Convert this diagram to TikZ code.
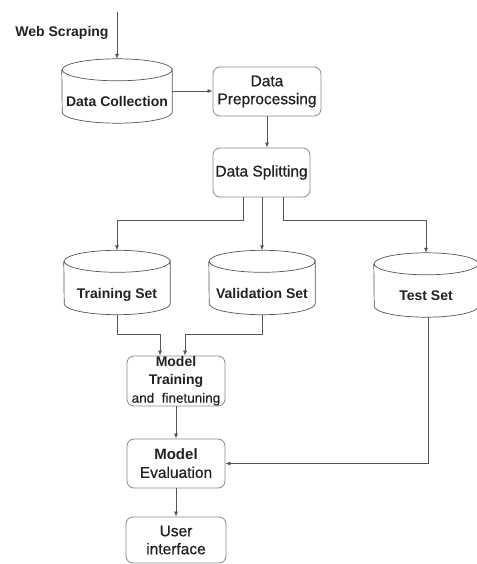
\documentclass[tikz,border=0pt]{standalone}
\usepackage{fontspec}
\setmainfont{Liberation Sans}
\newfontfamily\medfont[FakeBold=0.7]{Liberation Sans}
\usetikzlibrary{arrows.meta}
\definecolor{linec}{HTML}{555555}
\definecolor{boxc}{HTML}{8A8A8A}
\definecolor{txtc}{HTML}{222222}
\newcommand\regtext{\fontsize{15.5}{18}\selectfont\medfont\mdseries}
\tikzset{
 base/.style={font=\fontsize{14}{18}\selectfont\bfseries, text=txtc, align=center},
 regfont/.style={font=\fontsize{15.5}{18}\selectfont\medfont\mdseries},
 rbox/.style={base, draw=boxc, line width=0.8pt, rounded corners=7pt, inner sep=0pt},
 cylnode/.style={base, inner sep=0pt, minimum height=64pt, text height=31pt, text depth=0pt},
 cylline/.style={draw=linec, line width=0.7pt},
 conn/.style={draw=linec, line width=0.7pt, -{Latex[length=5pt,width=4pt]}},
}
\newcommand\drawcyl[2]{%
 \draw[cylline] ([yshift=-11pt]#1.north east) arc[start angle=0,end angle=360,x radius=#2pt,y radius=11pt] -- ([yshift=11pt]#1.south east) arc[start angle=0,end angle=-180,x radius=#2pt,y radius=11pt] -- ([yshift=-11pt]#1.north west);}
\begin{document}
\begin{tikzpicture}[x=1pt,y=-1pt]
\useasboundingbox (0,0) rectangle (476,564);
\node[base] (ws) at (62,33) {Web Scraping};
\coordinate (wstop) at (117,12);
\node[cylnode, minimum width=110pt] (dc) at (117,91) {Data Collection};
\node[rbox, regfont, minimum width=108pt, minimum height=49pt] (dp) at (267,91.5) {Data\\Preprocessing};
\node[rbox, regfont, minimum width=97pt, minimum height=49pt] (ds) at (261.5,172.5) {Data Splitting};
\node[cylnode, minimum width=106pt] (tr) at (117,282.5) {Training Set};
\node[cylnode, minimum width=106pt] (va) at (262,282.5) {Validation Set};
\node[cylnode, minimum width=104pt] (te) at (426,285) {Test Set};
\node[rbox, minimum width=98pt, minimum height=50pt] (mt) at (176,381) {Model\\Training\\{\fontsize{13.5}{14}\selectfont\medfont\mdseries and\ \ finetuning}};
\node[rbox, minimum width=98pt, minimum height=49pt] (me) at (176,463.5) {{\fontsize{15}{18}\selectfont Model}\\{\regtext Evaluation}};
\node[rbox, regfont, minimum width=100pt, minimum height=46pt] (ui) at (176,540) {User\\interface};
\drawcyl{dc}{55}
\drawcyl{tr}{53}
\drawcyl{va}{53}
\drawcyl{te}{52}
\draw[conn] (wstop) -- (dc.north);
\draw[conn] (dc.east) -- (dc.east -| dp.west);
\draw[conn] (dp.south) -- (dp.south |- ds.north);
\draw[conn] ([xshift=-18.5pt]ds.south) -- ++(0,23) -| (tr.north);
\draw[conn] (va.north |- ds.south) -- (va.north);
\draw[conn] ([xshift=21.5pt]ds.south) -- ++(0,23) -| (te.north);
\draw[conn] (tr.south) -- ++(0,19.5) -| ([xshift=-16pt]mt.north);
\draw[conn] (va.south) -- ++(0,19.5) -| ([xshift=9pt]mt.north);
\draw[conn] (mt.south) -- (me.north);
\draw[conn] (me.south) -- (ui.north);
\draw[conn] ([xshift=2pt]te.south) |- (me.east);
\end{tikzpicture}
\end{document}
